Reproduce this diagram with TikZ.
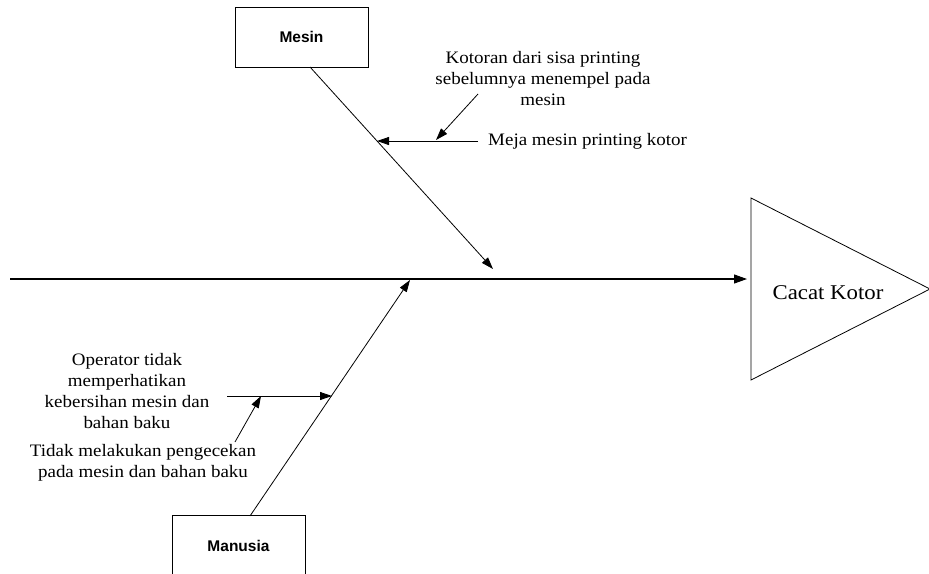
\documentclass[tikz,border=0pt]{standalone}
\usepackage{fontspec}
\setmainfont{Liberation Serif}[FakeStretch=1.085]
\newfontfamily\boxfont{Liberation Sans}
\usetikzlibrary{arrows.meta}
\begin{document}
\begin{tikzpicture}[x=1pt,y=-1pt,
  bone/.style={line width=0.8pt,-{Triangle[length=12pt,width=8pt]}},
  spine/.style={line width=1.1pt,-{Triangle[length=13pt,width=9pt]}},
  catbox/.style={draw,line width=0.8pt,minimum width=133pt,minimum height=60pt,inner sep=0pt,font=\boxfont\bfseries\fontsize{15.5}{18}\selectfont},
  cause/.style={align=center,inner sep=0pt,font=\fontsize{17.5}{21}\selectfont}]
\useasboundingbox (0,0) rectangle (929,573);
\begin{scope}
\clip (0,0) rectangle (929,573);
% category boxes
\node[catbox] (mesin) at (301.5,37) {Mesin};
\node[catbox] (manusia) at (238.5,545.5) {Manusia};
% effect head
\coordinate (t1) at (751,198);
\coordinate (t2) at (751,380);
\coordinate (t3) at (930,289);
\draw[line width=0.8pt] (t1) -- (t3) -- (t2) -- cycle;
\node[font=\fontsize{21}{25}\selectfont] (effect) at (828,293) {Cacat Kotor};
\end{scope}
% spine
\coordinate (tail) at (10,279);
\coordinate (head) at (747,279);
\draw[spine] (tail) -- (head);
% Mesin bone
\coordinate (mtop) at (310,67);
\coordinate (mend) at (493,269);
\draw[bone] (mtop) -- (mend);
\coordinate (meja0) at (478,141);
\coordinate (meja1) at (377,141);
\draw[bone] (meja0) -- (meja1);
\node[cause,anchor=west] (meja) at (488,141) {Meja mesin printing kotor};
\coordinate (kot0) at (478,94);
\coordinate (kot1) at (436,140);
\draw[bone] (kot0) -- (kot1);
\node[cause] (kotoran) at (543,79) {Kotoran dari sisa printing\\sebelumnya menempel pada\\mesin};
% Manusia bone
\coordinate (mbot) at (250,516);
\coordinate (mhead) at (410,280);
\draw[bone] (mbot) -- (mhead);
\coordinate (op0) at (227,396);
\coordinate (op1) at (332,396);
\draw[bone] (op0) -- (op1);
\node[cause] (operator) at (127,391) {Operator tidak\\memperhatikan\\kebersihan mesin dan\\bahan baku};
\coordinate (td0) at (235,442);
\coordinate (td1) at (261,396);
\draw[bone] (td0) -- (td1);
\node[cause] (tidak) at (143,463) {Tidak melakukan pengecekan\\pada mesin dan bahan baku};
\end{tikzpicture}
\end{document}
